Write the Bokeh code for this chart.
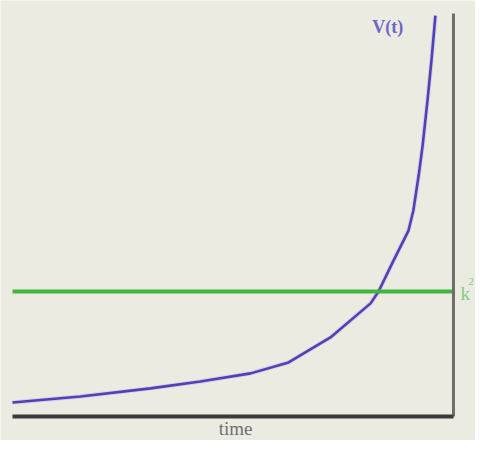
from bokeh.plotting import figure
from bokeh.models import Range1d, Label
from bokeh.embed import file_html
from bokeh.resources import INLINE

# data
time = [0.0, 1.54, 3.13, 4.26, 5.40, 6.26, 7.21, 8.12, 8.30, 8.64, 8.98, 9.09, 9.21, 9.30, 9.41, 9.50, 9.59]
V = [0.45, 0.64, 0.90, 1.12, 1.38, 1.73, 2.53, 3.62, 4.00, 4.99, 5.95, 6.59, 7.71, 8.67, 10.11, 11.39, 12.83]
k2 = 4.0
t_end = 10.0
v_top = 12.9

BG = "#ecebe1"
p = figure(width=475, height=440, output_backend="svg", toolbar_location=None,
           x_range=Range1d(-0.272, 10.499), y_range=Range1d(-0.768, 13.312),
           min_border=0, background_fill_color=BG, border_fill_color=BG)
p.axis.visible = False
p.grid.visible = False
p.outline_line_color = None

# curve
p.line(time, V, line_color="#e0b0e8", line_width=4.5, line_alpha=0.6)
p.line(time, V, line_color="#4a44b4", line_width=2.6)

# green threshold line
p.line([0, t_end], [k2, k2], line_color="#3fb63f", line_width=4)

# vertical line at right
p.line([t_end, t_end], [0, v_top], line_color="#6e6e6e", line_width=3)
# bottom axis
p.line([0, t_end], [0, 0], line_color="#3a3a3a", line_width=4)

serif = "Liberation Serif"
p.add_layout(Label(x=8.16, y=12.45, text="V(t)", text_font=serif, text_font_size="18px",
                   text_font_style="bold", text_color="#6e66c4", text_align="left",
                   text_baseline="middle"))
p.add_layout(Label(x=10.16, y=3.94, text="k", text_font=serif, text_font_size="19px",
                   text_color="#7fcf7f", text_align="left", text_baseline="middle"))
p.add_layout(Label(x=10.34, y=4.33, text="2", text_font=serif, text_font_size="11px",
                   text_color="#7fcf7f", text_align="left", text_baseline="middle"))
p.add_layout(Label(x=5.06, y=-0.72, text="time", text_font=serif, text_font_size="19px",
                   text_color="#707070", text_align="center", text_baseline="bottom"))

open("out.html", "w").write(file_html(p, INLINE))
